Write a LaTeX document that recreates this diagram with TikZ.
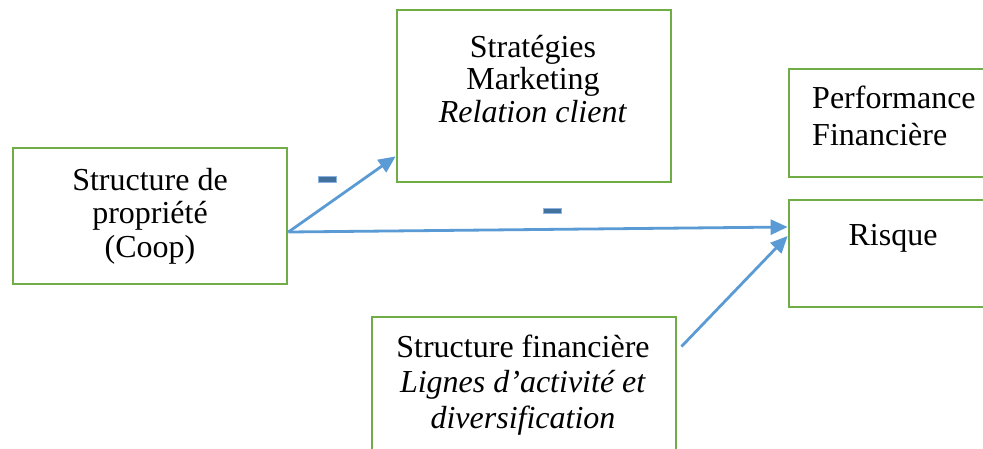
\documentclass[tikz,border=0pt]{standalone}
\usepackage{fontspec}
\setmainfont{Liberation Serif}
\usetikzlibrary{arrows.meta}
\definecolor{boxgreen}{HTML}{70AD47}
\definecolor{arrowblue}{HTML}{5B9BD5}
\definecolor{minusfill}{HTML}{41719C}
\definecolor{minusedge}{HTML}{8DB3E2}
\tikzset{
  box/.style={draw=boxgreen, line width=2.8pt, rectangle, inner sep=0pt, fill=white},
  txt/.style={inner sep=0pt, font=\fontsize{32}{33.5}\selectfont},
  link/.style={draw=arrowblue, line width=2.8pt, -{Triangle[length=17pt,width=15pt]}},
  minus/.style={rectangle, fill=minusfill, draw=minusedge, line width=0.8pt, minimum width=18pt, minimum height=5.5pt, inner sep=0pt}
}
\begin{document}
\begin{tikzpicture}[x=1pt,y=-1pt]
\clip (0,0) rectangle (983,448);
\fill[white] (0,0) rectangle (983,448);
% boxes
\node[box, minimum width=274pt, minimum height=136pt] (A) at (150,216) {};
\node[box, minimum width=274pt, minimum height=172pt] (B) at (534,96) {};
\node[box, minimum width=274pt, minimum height=108pt] (C) at (926,123) {};
\node[box, minimum width=274pt, minimum height=107pt] (D) at (926,253.5) {};
\node[box, minimum width=304pt, minimum height=153pt] (E) at (524,393.5) {};
% texts (anchor base = baseline of the last line)
\node[txt, align=center, anchor=base, font=\fontsize{32}{33.5}\selectfont] (tA) at (150,257) {Structure de\\propriété\\(Coop)};
\node[txt, align=center, anchor=base, font=\fontsize{32}{32.5}\selectfont] (tB) at (533,122) {Stratégies\\Marketing\\\textit{Relation client}};
\node[txt, align=left, anchor=base west, font=\fontsize{32}{37}\selectfont] (tC) at (812,145) {Performance\\Financière};
\node[txt, anchor=base] (tD) at (893,245) {Risque};
\node[txt, align=center, anchor=base, font=\fontsize{32}{35.5}\selectfont] (tE) at (523,428) {Structure financière\\\textit{Lignes d’activité et}\\\textit{diversification}};
% minus signs
\node[minus] (m1) at (327,179.5) {};
\node[minus] (m2) at (552,211) {};
% connectors
\coordinate (Aout) at ([yshift=-16pt]A.east);
\draw[link] (Aout) -- ([yshift=27pt]B.south west);
\draw[link] (Aout) -- ([yshift=26.5pt]D.west);
\draw[link] ([xshift=4pt,yshift=-31pt]E.north east) -- ([yshift=17.5pt]D.west);
\end{tikzpicture}
\end{document}
